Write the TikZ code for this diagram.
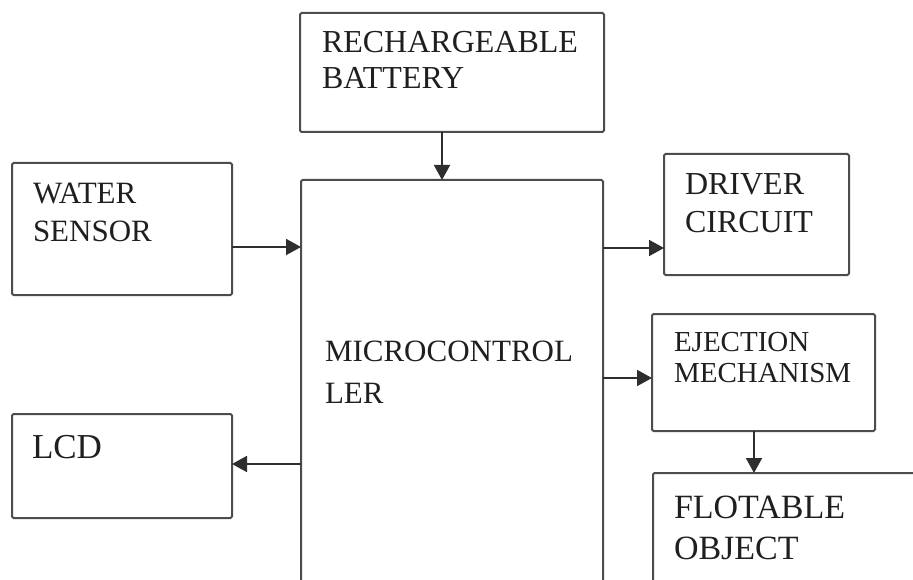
\documentclass[tikz,border=0pt]{standalone}
\usepackage{fontspec}
\setmainfont{Liberation Serif}
\usetikzlibrary{arrows.meta}
\tikzset{
  blk/.style={draw=black!70, line width=2pt, rectangle, rounded corners=1.5pt, inner sep=0pt, outer sep=0pt},
  txt/.style={anchor=base west, inner sep=0pt, outer sep=0pt, text=black!88},
  arr/.style={draw=black!82, line width=1.8pt, -{Triangle[length=15pt,width=16pt]}}
}
\newcommand{\fs}[1]{\fontsize{#1}{#1}\selectfont}
\begin{document}
\begin{tikzpicture}[x=1pt,y=-1pt]
\clip (0,0) rectangle (913,580);
\fill[white] (0,0) rectangle (913,580);
% boxes
\node[blk, minimum width=304pt, minimum height=119pt] (batt) at (452,72.5) {};
\node[blk, minimum width=302pt, minimum height=420pt] (micro) at (452,390) {};
\node[blk, minimum width=220pt, minimum height=132pt] (water) at (122,229) {};
\node[blk, minimum width=220pt, minimum height=104pt] (lcd) at (122,466) {};
\node[blk, minimum width=185pt, minimum height=121pt] (driver) at (756.5,214.5) {};
\node[blk, minimum width=223pt, minimum height=117pt] (eject) at (763.5,372.5) {};
\node[blk, minimum width=277pt, minimum height=127pt] (flot) at (791.5,536.5) {};
% texts
\node[txt, font=\fs{32}] (batt1) at (322,53) {RECHARGEABLE};
\node[txt, font=\fs{32}] (batt2) at (322,89) {BATTERY};
\node[txt, font=\fs{31}] (water1) at (33,204) {WATER};
\node[txt, font=\fs{31}] (water2) at (33,242) {SENSOR};
\node[txt, font=\fs{31}] (micro1) at (325,361) {MICROCONTROL};
\node[txt, font=\fs{31}] (micro2) at (325,403) {LER};
\node[txt, font=\fs{35}] (lcd1) at (32,458) {LCD};
\node[txt, font=\fs{32}] (drv1) at (685,195) {DRIVER};
\node[txt, font=\fs{32}] (drv2) at (685,233) {CIRCUIT};
\node[txt, font=\fs{29}] (ej1) at (674,351) {EJECTION};
\node[txt, font=\fs{29}] (ej2) at (674,382) {MECHANISM};
\node[txt, font=\fs{34}] (fl1) at (674,518) {FLOTABLE};
\node[txt, font=\fs{34}] (fl2) at (674,559) {OBJECT};
% connectors
\draw[arr] (batt.south -| 442,0) -- (micro.north -| 442,0);
\draw[arr] (water.east |- 0,247) -- (micro.west |- 0,247);
\draw[arr] (micro.east |- 0,248) -- (driver.west |- 0,248);
\draw[arr] (micro.east |- 0,378) -- (eject.west |- 0,378);
\draw[arr] (micro.west |- 0,464) -- (lcd.east |- 0,464);
\draw[arr] (eject.south -| 754,0) -- (flot.north -| 754,0);
\end{tikzpicture}
\end{document}
